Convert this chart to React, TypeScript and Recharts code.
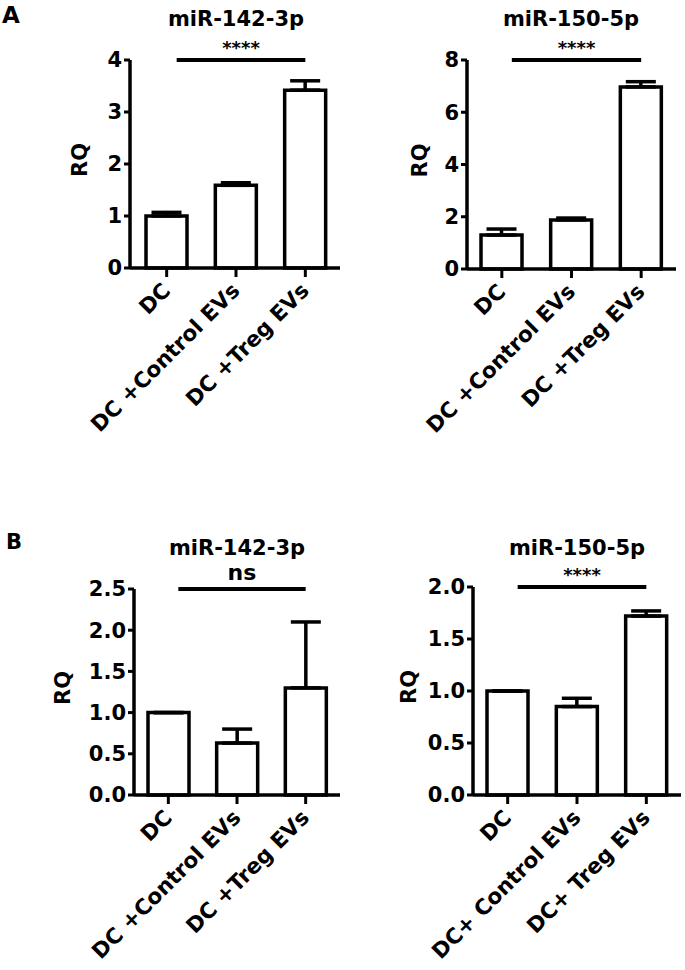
import React from 'react';
import { BarChart, Bar, XAxis, YAxis, ErrorBar, ReferenceLine, Label } from 'recharts';

const categoriesA = ['DC', 'DC +Control EVs', 'DC +Treg EVs'];
const categoriesBLeft = ['DC', 'DC +Control EVs', 'DC +Treg EVs'];
const categoriesBRight = ['DC', 'DC+ Control EVs', 'DC+ Treg EVs'];

const a142Mean = [1.0, 1.59, 3.42];
const a142Err = [0.07, 0.05, 0.18];
const a150Mean = [1.3, 1.88, 6.97];
const a150Err = [0.23, 0.07, 0.2];
const b142Mean = [1.0, 0.63, 1.3];
const b142Err = [0, 0.17, 0.8];
const b150Mean = [1.0, 0.85, 1.72];
const b150Err = [0, 0.08, 0.05];

const ticksA142 = [0, 1, 2, 3, 4];
const ticksA150 = [0, 2, 4, 6, 8];
const ticksB142 = [0, 0.5, 1, 1.5, 2, 2.5];
const ticksB150 = [0, 0.5, 1, 1.5, 2];

const titles = ['miR-142-3p', 'miR-150-5p', 'miR-142-3p', 'miR-150-5p'];
const panelLetters = ['A', 'B'];
const sigLabels = ['****', '****', 'ns', '****'];

const FONT = '"DejaVu Sans", sans-serif';

const build = (cats: string[], means: number[], errs: number[]) =>
  cats.map((c, i) => ({ name: c, value: means[i], err: [0, errs[i]] }));

const XTick = (props: any) => {
  const { x, y, payload } = props;
  return (
    <g transform={`translate(${x},${y})`}>
      <text
        x={5}
        y={13}
        transform="rotate(-45 5 13)"
        textAnchor="end"
        fontFamily={FONT}
        fontWeight="bold"
        fontSize={21.5}
        fill="#000"
      >
        {payload.value}
      </text>
    </g>
  );
};

type PanelProps = {
  chartLeft: number;
  chartTop: number;
  plotLeft: number;
  plotRight: number;
  plotTop: number;
  plotBottom: number;
  chartBottom: number;
  data: any[];
  ticks: number[];
  decimals: number;
  rqDist: number;
  sig: string;
  sigSize: number;
  sigLift: number;
  padLeft: number;
};

const Panel = (p: PanelProps) => {
  const width = p.plotRight - p.chartLeft + 4;
  const height = p.chartBottom - p.chartTop;
  const yMax = p.ticks[p.ticks.length - 1];
  const cats = p.data.map((d) => d.name);
  const renderRQ = (lp: any) => {
    const vb = lp.viewBox || {};
    const bx = vb.x + vb.width - p.rqDist + 7.5;
    const cy = vb.y + vb.height / 2 - 4;
    return (
      <text
        x={bx}
        y={cy}
        transform={`rotate(-90 ${bx} ${cy})`}
        textAnchor="middle"
        fontFamily={FONT}
        fontWeight="bold"
        fontSize={21}
        fill="#000"
      >
        RQ
      </text>
    );
  };
  const sigShape = (sp: any) => {
    const x1 = sp.x1 + 10;
    const x2 = sp.x2;
    const y = sp.y1;
    return (
      <g>
        <line x1={x1} y1={y} x2={x2} y2={y} stroke="#000" strokeWidth={4} />
        <text
          x={(x1 + x2) / 2}
          y={y - p.sigLift}
          textAnchor="middle"
          fontFamily={FONT}
          fontWeight="bold"
          fontSize={p.sigSize}
          fill="#000"
        >
          {p.sig}
        </text>
      </g>
    );
  };
  return (
    <div style={{ position: 'absolute', left: p.chartLeft, top: p.chartTop }}>
      <BarChart
        width={width}
        height={height}
        data={p.data}
        margin={{ top: p.plotTop - p.chartTop, right: 4, left: 0, bottom: 0 }}
        barSize={41}
      >
        <XAxis
          dataKey="name"
          type="category"
          height={p.chartBottom - p.plotBottom}
          padding={{ left: p.padLeft, right: 0 }}
          axisLine={{ stroke: '#000', strokeWidth: 3.5 }}
          tickLine={{ stroke: '#000', strokeWidth: 3 }}
          tickSize={9}
          tick={<XTick />}
          interval={0}
        />
        <YAxis
          type="number"
          domain={[0, yMax]}
          ticks={p.ticks}
          width={p.plotLeft - p.chartLeft}
          axisLine={{ stroke: '#000', strokeWidth: 3.5 }}
          tickLine={{ stroke: '#000', strokeWidth: 3 }}
          tickSize={6}
          tickMargin={2}
          tickFormatter={(v: number) => v.toFixed(p.decimals)}
          tick={{ fill: '#000', fontSize: 21, fontWeight: 'bold', fontFamily: FONT }}
          interval={0}
        >
          <Label content={renderRQ} />
        </YAxis>
        <Bar dataKey="value" fill="#fff" stroke="#000" strokeWidth={3.5} isAnimationActive={false}>
          <ErrorBar dataKey="err" width={15} strokeWidth={3.5} stroke="#000" direction="y" />
        </Bar>
        <ReferenceLine
          segment={[
            { x: cats[0], y: yMax },
            { x: cats[2], y: yMax },
          ]}
          ifOverflow="visible"
          shape={sigShape}
        />
      </BarChart>
    </div>
  );
};

export default function App() {
  return (
    <div style={{ position: 'absolute', left: 0, top: 0, width: 685, height: 970, background: '#fff' }}>
      <Panel
        chartLeft={0}
        chartTop={0}
        plotLeft={130}
        plotRight={340}
        plotTop={60}
        plotBottom={268}
        chartBottom={480}
        data={build(categoriesA, a142Mean, a142Err)}
        ticks={ticksA142}
        decimals={0}
        rqDist={51}
        sig={sigLabels[0]}
        sigSize={18}
        sigLift={6}
        padLeft={2}
      />
      <Panel
        chartLeft={345}
        chartTop={0}
        plotLeft={467}
        plotRight={676}
        plotTop={60}
        plotBottom={269}
        chartBottom={480}
        data={build(categoriesA, a150Mean, a150Err)}
        ticks={ticksA150}
        decimals={0}
        rqDist={48}
        sig={sigLabels[1]}
        sigSize={18}
        sigLift={6}
        padLeft={0}
      />
      <Panel
        chartLeft={0}
        chartTop={500}
        plotLeft={134}
        plotRight={340}
        plotTop={589}
        plotBottom={795}
        chartBottom={970}
        data={build(categoriesBLeft, b142Mean, b142Err)}
        ticks={ticksB142}
        decimals={1}
        rqDist={72}
        sig={sigLabels[2]}
        sigSize={22}
        sigLift={9}
        padLeft={0}
      />
      <Panel
        chartLeft={345}
        chartTop={500}
        plotLeft={473}
        plotRight={681}
        plotTop={587}
        plotBottom={795}
        chartBottom={970}
        data={build(categoriesBRight, b150Mean, b150Err)}
        ticks={ticksB150}
        decimals={1}
        rqDist={65}
        sig={sigLabels[3]}
        sigSize={18}
        sigLift={6}
        padLeft={0}
      />
      <svg
        width={685}
        height={970}
        style={{ position: 'absolute', left: 0, top: 0, pointerEvents: 'none' }}
      >
        <g fontFamily={FONT} fontWeight="bold" fill="#000">
          <text x={2} y={23} fontSize={23}>{panelLetters[0]}</text>
          <text x={6} y={549} fontSize={21}>{panelLetters[1]}</text>
          <text x={236} y={26} fontSize={21} textAnchor="middle">{titles[0]}</text>
          <text x={571} y={26} fontSize={21} textAnchor="middle">{titles[1]}</text>
          <text x={237} y={555} fontSize={21} textAnchor="middle">{titles[2]}</text>
          <text x={577} y={555} fontSize={21} textAnchor="middle">{titles[3]}</text>
        </g>
      </svg>
    </div>
  );
}
